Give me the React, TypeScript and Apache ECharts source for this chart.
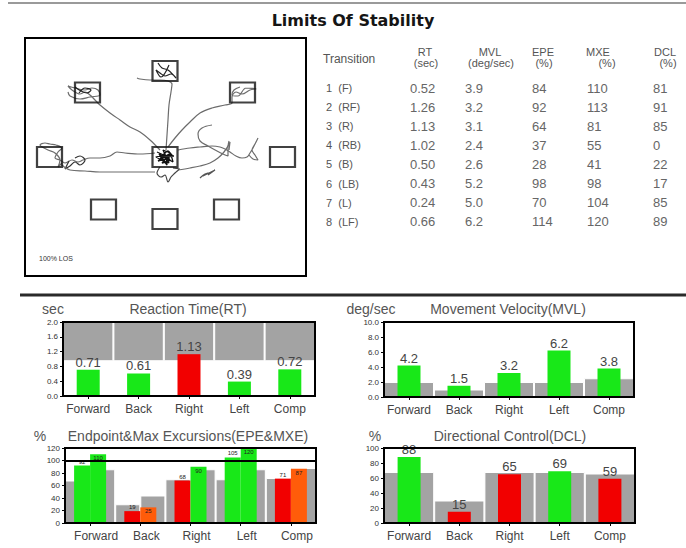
import React, { useEffect, useRef } from "react";
import * as echarts from "echarts";

// ---------- data ----------
const CATEGORIES = ["Forward", "Back", "Right", "Left", "Comp"];

const RT_VALUES = [0.71, 0.61, 1.13, 0.39, 0.72];
const RT_NORM = [0.94, 0.94, 0.94, 0.94, 0.94];
const RT_MAX = 2.0;

const MVL_VALUES = [4.2, 1.5, 3.2, 6.2, 3.8];
const MVL_NORM = [2.0, 1.0, 2.0, 2.0, 2.5];

const EPE_VALUES = [92, 19, 68, 105, 71];
const MXE_VALUES = [110, 25, 90, 120, 87];
const EPE_NORM = [68, 30, 70, 70, 72];
const MXE_NORM = [86, 44, 86, 86, 88];
const EPE_LIMIT = 100;

const DCL_VALUES = [88, 15, 65, 69, 59];
const DCL_NORM = [68, 30, 68, 68, 66];

const TABLE_HEADERS = [
  ["RT", "(sec)"],
  ["MVL", "(deg/sec)"],
  ["EPE", "(%)"],
  ["MXE", "(%)"],
  ["DCL", "(%)"],
];
const TABLE_TRANSITIONS = ["1  (F)", "2  (RF)", "3  (R)", "4  (RB)", "5  (B)", "6  (LB)", "7  (L)", "8  (LF)"];
const TABLE_RT = ["0.52", "1.26", "1.13", "1.02", "0.50", "0.43", "0.24", "0.66"];
const TABLE_MVL = ["3.9", "3.2", "3.1", "2.4", "2.6", "5.2", "5.0", "6.2"];
const TABLE_EPE = ["84", "92", "64", "37", "28", "98", "70", "114"];
const TABLE_MXE = ["110", "113", "81", "55", "41", "98", "104", "120"];
const TABLE_DCL = ["81", "91", "85", "0", "22", "17", "85", "89"];

// LOS target positions (trace coordinates, centre target at 0,0)
const TARGETS = [
  [0, 0], [0, 86], [77.5, 64.5], [117.5, 0], [61.5, -52.5],
  [0, -62], [-61.5, -52.5], [-115.5, 0], [-77.5, 64.5],
];

// centre-of-pressure traces
const TRACE_F = [[1, 7], [2, 22], [3, 37], [4, 52], [6, 65], [7, 73], [3, 76], [-5, 77], [-15, 77], [-25, 78], [-28, 79]];
const TRACE_F_END = [[-7, 94], [-3, 89], [3, 87], [11, 79], [6, 83], [0, 81], [-5, 84], [-9, 87], [-4, 80], [4, 92]];
const TRACE_FL = [[-5, 7], [-15, 17], [-25, 25], [-35, 30], [-45, 37], [-55, 44], [-65, 52], [-70, 57], [-75, 62], [-80, 65], [-85, 63], [-93, 67], [-97, 71], [-90, 69], [-80, 67], [-73, 69], [-67, 67], [-65, 62], [-75, 60], [-85, 58], [-95, 61], [-97, 65]];
const TRACE_FL_END = [[-90, 70], [-84, 66], [-78, 64], [-74, 67], [-80, 69], [-86, 64]];
const TRACE_FR = [[3, 10], [10, 19], [17, 27], [25, 35], [35, 44], [47, 49], [60, 52], [67, 54], [67, 60], [71, 65], [77, 63], [85, 67], [91, 68], [81, 69], [73, 61], [67, 62], [69, 67], [75, 70]];
const TRACE_L = [[-10, 4], [-25, 3], [-40, 4], [-48, 5], [-55, 1], [-65, -1], [-75, -1], [-82, -3], [-87, -5], [-93, -3], [-100, -6], [-105, -3], [-110, -1], [-107, 5], [-103, 9], [-109, 12], [-115, 13], [-120, 14], [-125, 12], [-117, 7], [-110, 4], [-105, -3], [-107, -10], [-103, -6]];
const TRACE_L_LOOP = [[-90, -1], [-85, 1], [-80, -3], [-85, -8], [-90, -5], [-95, -9], [-100, -12], [-96, -4]];
const TRACE_L_BACK = [[-103, -8], [-95, -13], [-80, -14], [-65, -15], [-45, -15], [-25, -15], [-10, -15]];
const TRACE_R = [[13, 7], [25, 9], [35, 10], [47, 11], [55, 10], [60, 8], [65, 5], [71, 1], [77, -1], [82, 0], [85, 4], [88, 9], [91, 15], [93, 19], [90, 13], [87, 7], [90, 2], [93, -3], [88, -2], [84, 2]];
const TRACE_R_S = [[47, 32], [37, 29], [33, 23], [35, 16], [43, 11], [52, 6], [58, 3], [63, 1], [63, 10], [64, 16]];
const TRACE_BR = [[13, -13], [25, -11], [35, -9], [45, -6], [53, -1], [59, 5], [63, 11], [65, 15], [64, 7]];
const TRACE_BR_LOOP = [[35, -21], [40, -17], [47, -15], [43, -18], [50, -13], [38, -19]];
const TRACE_CENTRE = [[-8, 5], [5, -3], [-3, -6], [6, 4], [-5, -2], [3, 6], [8, -5], [-6, 3], [2, -8], [0, 0], [-7, -4], [7, 2], [-2, 7], [4, -6], [-9, 0], [9, 1]];
const TRACE_BELOW = [[-5, -10], [-8, -16], [-4, -20], [0, -18], [3, -25], [6, -20], [10, -16], [14, -12], [8, -11], [15, -12]];

// ---------- styling ----------
const FONT = "'Liberation Sans', Arial, sans-serif";
const GREEN = "#18e818";
const RED = "#f20000";
const ORANGE = "#ff5c0a";
const GRAY = "#a3a3a3";

const G_RT = { left: 63, top: 322, width: 252, height: 74 };
const G_MVL = { left: 384, top: 322, width: 250, height: 75 };
const G_EPE = { left: 65, top: 448, width: 251, height: 75 };
const G_DCL = { left: 384, top: 448, width: 251, height: 75 };
const G_LOS = { left: 25, top: 38, width: 281, height: 238 };

function gridOf(g: any) {
  return { ...g, show: true, backgroundColor: "#fff", borderWidth: 0 };
}

function frame(g: any) {
  return {
    type: "rect",
    z: 100,
    silent: true,
    shape: { x: g.left, y: g.top, width: g.width, height: g.height },
    style: { fill: "none", stroke: "#000", lineWidth: 2 },
  };
}

function catAxis(gridIndex: number, shift = 0) {
  return {
    type: "category",
    gridIndex,
    data: CATEGORIES,
    z: 10,
    axisLine: { show: true, lineStyle: { color: "#000", width: 2 } },
    axisTick: { show: true, alignWithLabel: true, length: 3, lineStyle: { color: "#000" } },
    axisLabel: {
      interval: 0,
      color: "#444",
      fontSize: 12,
      fontFamily: FONT,
      margin: 7,
      padding: [0, 0, 0, shift],
    },
  };
}
function hiddenAxis(gridIndex: number) {
  return { type: "category", gridIndex, data: CATEGORIES, show: false };
}
function valAxis(gridIndex: number, max: number, interval: number, dec: number) {
  return {
    type: "value",
    gridIndex,
    min: 0,
    max,
    interval,
    z: 10,
    axisLine: { show: true, lineStyle: { color: "#000", width: 2 } },
    axisTick: { show: true, length: 3, lineStyle: { color: "#000" } },
    splitLine: { show: false },
    axisLabel: {
      color: "#333",
      fontSize: 8,
      fontFamily: FONT,
      margin: 5,
      formatter: (v: number) => v.toFixed(dec),
    },
  };
}

function normBars(xAxisIndex: number, yAxisIndex: number, data: number[], extra: any = {}) {
  return {
    type: "bar",
    xAxisIndex,
    yAxisIndex,
    data,
    barCategoryGap: "0%",
    barGap: "0%",
    silent: true,
    z: 1,
    itemStyle: { color: GRAY, borderColor: "#fff", borderWidth: 1 },
    ...extra,
  };
}

function valueBars(
  xAxisIndex: number,
  yAxisIndex: number,
  values: number[],
  colors: string[],
  fmt: (v: number) => string,
  extra: any = {}
) {
  return {
    type: "bar",
    xAxisIndex,
    yAxisIndex,
    barWidth: 23,
    z: 3,
    data: values.map((v, i) => ({ value: v, itemStyle: { color: colors[i] } })),
    label: {
      show: true,
      position: "top",
      distance: 1,
      color: "#444",
      fontSize: 13,
      fontFamily: FONT,
      formatter: (p: any) => fmt(p.value),
    },
    ...extra,
  };
}

function traceLine(data: number[][], color = "#6c6c6c", width = 1.2) {
  return {
    type: "line",
    xAxisIndex: 8,
    yAxisIndex: 4,
    data,
    showSymbol: false,
    smooth: 0.35,
    silent: true,
    z: 2,
    lineStyle: { color, width },
  };
}

function text(t: string, x: number, y: number, style: any = {}) {
  return {
    type: "text",
    x,
    y,
    silent: true,
    z: 50,
    style: {
      text: t,
      fontFamily: FONT,
      fontSize: 14,
      fill: "#555",
      textAlign: "center",
      textVerticalAlign: "middle",
      ...style,
    },
  };
}

function buildOption() {
  const rtColors = RT_VALUES.map((v, i) => (v <= RT_NORM[i] ? GREEN : RED));
  const mvlColors = MVL_VALUES.map((v, i) => (v >= MVL_NORM[i] ? GREEN : RED));
  const epeColors = EPE_VALUES.map((v, i) => (v >= EPE_NORM[i] ? GREEN : RED));
  const mxeColors = MXE_VALUES.map((v, i) => (v >= MXE_NORM[i] ? GREEN : ORANGE));
  const dclColors = DCL_VALUES.map((v, i) => (v >= DCL_NORM[i] ? GREEN : RED));

  const rowY = (i: number) => 88 + i * 19.1;
  const colX = [410, 465, 532, 587, 653];
  const cols = [TABLE_RT, TABLE_MVL, TABLE_EPE, TABLE_MXE, TABLE_DCL];
  const headX1 = [425, 490, 543, 598, 665];
  const headX2 = [426, 491, 544, 607, 668];

  const graphics: any[] = [
    { type: "line", silent: true, shape: { x1: 8, y1: 3, x2: 686, y2: 3 }, style: { stroke: "#9a9a9a", lineWidth: 2 } },
    { type: "line", silent: true, shape: { x1: 20, y1: 295, x2: 686, y2: 295 }, style: { stroke: "#2a2a2a", lineWidth: 3 } },
    text("Limits Of Stability", 353, 20, { fontFamily: "'DejaVu Sans', sans-serif", fontWeight: "bold", fontSize: 16, fill: "#151515" }),
    text("Transition", 323, 59, { textAlign: "left", fontSize: 12, fill: "#555" }),
    text("100% LOS", 39, 258, { textAlign: "left", fontSize: 7, fill: "#333" }),
    text("sec", 53, 309),
    text("Reaction Time(RT)", 188, 309),
    text("deg/sec", 371, 309),
    text("Movement Velocity(MVL)", 508, 309),
    text("%", 40, 436),
    text("Endpoint&Max Excursions(EPE&MXE)", 188, 436),
    text("%", 375, 436),
    text("Directional Control(DCL)", 510, 436),
    frame(G_RT),
    frame(G_MVL),
    frame(G_EPE),
    frame(G_DCL),
    frame(G_LOS),
  ];
  TABLE_HEADERS.forEach((h, k) => {
    graphics.push(text(h[0], headX1[k], 52, { fontSize: 11, fill: "#555" }));
    graphics.push(text(h[1], headX2[k], 63, { fontSize: 11, fill: "#555" }));
  });
  TABLE_TRANSITIONS.forEach((t, i) => {
    graphics.push(text(t, 326, rowY(i), { textAlign: "left", fontSize: 11, fill: "#555" }));
    cols.forEach((col, k) => {
      graphics.push(text(col[i], colX[k], rowY(i), { textAlign: "left", fontSize: 13, fill: "#666" }));
    });
  });

  return {
    animation: false,
    backgroundColor: "#fff",
    grid: [gridOf(G_RT), gridOf(G_MVL), gridOf(G_EPE), gridOf(G_DCL), gridOf(G_LOS)],
    xAxis: [
      catAxis(0), hiddenAxis(0),
      catAxis(1), hiddenAxis(1),
      catAxis(2, 12), hiddenAxis(2),
      catAxis(3), hiddenAxis(3),
      { type: "value", gridIndex: 4, min: -140, max: 141, show: false },
    ],
    yAxis: [
      valAxis(0, RT_MAX, 0.4, 1),
      valAxis(1, 10, 2, 1),
      valAxis(2, 120, 20, 0),
      valAxis(3, 100, 20, 0),
      { type: "value", gridIndex: 4, min: -119, max: 119, show: false },
    ],
    series: [
      // RT
      normBars(1, 0, RT_NORM, { stack: "rtn", itemStyle: { color: "rgba(0,0,0,0)", borderWidth: 0 } }),
      normBars(1, 0, RT_NORM.map((n) => +(RT_MAX - n).toFixed(2)), { stack: "rtn" }),
      valueBars(0, 0, RT_VALUES, rtColors, (v) => v.toFixed(2)),
      // MVL
      normBars(3, 1, MVL_NORM),
      valueBars(2, 1, MVL_VALUES, mvlColors, (v) => v.toFixed(1)),
      // EPE & MXE
      normBars(5, 2, EPE_NORM),
      normBars(5, 2, MXE_NORM),
      valueBars(4, 2, EPE_VALUES, epeColors, (v) => String(v), {
        barWidth: 16,
        barGap: "0%",
        label: { show: true, position: "top", distance: 1, color: "#222", fontSize: 6, fontFamily: FONT },
      }),
      valueBars(4, 2, MXE_VALUES, mxeColors, (v) => String(v), {
        barWidth: 16,
        barGap: "0%",
        z: 4,
        label: { show: true, position: "insideTop", distance: 1, color: "#222", fontSize: 6, fontFamily: FONT },
        markLine: {
          silent: true,
          symbol: "none",
          label: { show: false },
          lineStyle: { color: "#000", width: 2, type: "solid" },
          data: [{ yAxis: EPE_LIMIT }],
        },
      }),
      // DCL
      normBars(7, 3, DCL_NORM),
      valueBars(6, 3, DCL_VALUES, dclColors, (v) => String(v)),
      // LOS traces
      traceLine(TRACE_F),
      traceLine(TRACE_F_END, "#222"),
      traceLine(TRACE_FL),
      traceLine(TRACE_FL_END, "#222"),
      traceLine(TRACE_FR),
      traceLine(TRACE_L),
      traceLine(TRACE_L_LOOP, "#333"),
      traceLine(TRACE_L_BACK),
      traceLine(TRACE_R),
      traceLine(TRACE_R_S),
      traceLine(TRACE_BR),
      traceLine(TRACE_BR_LOOP, "#555"),
      traceLine(TRACE_CENTRE, "#111", 1.3),
      traceLine(TRACE_BELOW, "#444"),
      {
        type: "scatter",
        xAxisIndex: 8,
        yAxisIndex: 4,
        data: TARGETS,
        symbol: "rect",
        symbolSize: [25, 20],
        silent: true,
        z: 3,
        itemStyle: { color: "rgba(0,0,0,0)", borderColor: "#111", borderWidth: 2 },
      },
    ],
    graphic: graphics,
  };
}

export default function App() {
  const ref = useRef<HTMLDivElement>(null);
  useEffect(() => {
    if (!ref.current) return;
    const chart = echarts.init(ref.current, undefined, { renderer: "svg" });
    chart.setOption(buildOption() as any);
    return () => chart.dispose();
  }, []);
  return (
    <div
      ref={ref}
      style={{ position: "fixed", left: 0, top: 0, width: 686, height: 548, background: "#fff" }}
    />
  );
}
